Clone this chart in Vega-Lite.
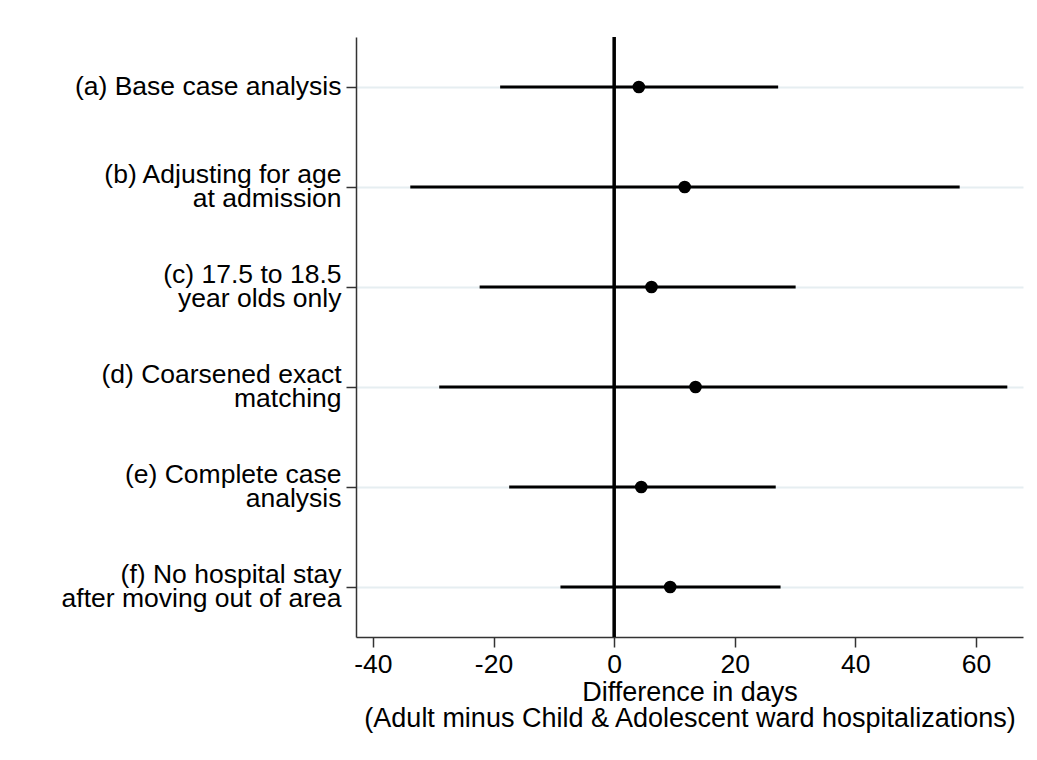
{
  "$schema": "https://vega.github.io/schema/vega-lite/v6.json",
  "autosize": {"type": "none"},
  "width": 667,
  "height": 600,
  "padding": {"left": 356, "top": 37, "right": 14, "bottom": 123},
  "background": "white",
  "config": {
    "view": {"stroke": null},
    "font": "Liberation Sans"
  },
  "data": {
    "values": [
      {"label": "(a) Base case analysis", "est": 4.1, "lo": -18.9, "hi": 27.2},
      {"label": "(b) Adjusting for age|at admission", "est": 11.7, "lo": -33.8, "hi": 57.3},
      {"label": "(c) 17.5 to 18.5|year olds only", "est": 6.2, "lo": -22.3, "hi": 30.1},
      {"label": "(d) Coarsened exact|matching", "est": 13.5, "lo": -29.0, "hi": 65.2},
      {"label": "(e) Complete case|analysis", "est": 4.5, "lo": -17.4, "hi": 26.8},
      {"label": "(f) No hospital stay|after moving out of area", "est": 9.3, "lo": -8.9, "hi": 27.6}
    ]
  },
  "encoding": {
    "y": {
      "field": "label",
      "type": "nominal",
      "sort": null,
      "scale": {"paddingInner": 0, "paddingOuter": 0},
      "axis": {
        "title": null,
        "labelExpr": "split(datum.label, '|')",
        "labelFontSize": 26.5,
        "labelLineHeight": 24,
        "labelColor": "black",
        "labelPadding": 5,
        "labelLimit": 400,
        "labelOffset": {"condition": {"test": "indexof(datum.label, '|') >= 0", "value": -12}, "value": 0},
        "tickSize": 10,
        "tickColor": "#333333",
        "tickWidth": 1.5,
        "domainColor": "#333333",
        "domainWidth": 1.5,
        "grid": true,
        "gridColor": "#e6eef1",
        "gridWidth": 2
      }
    }
  },
  "layer": [
    {
      "mark": {"type": "rule", "color": "black", "strokeWidth": 2.5},
      "encoding": {
        "x": {"datum": 0, "type": "quantitative"},
        "y": null
      }
    },
    {
      "mark": {"type": "rule", "color": "black", "strokeWidth": 3},
      "encoding": {
        "x": {
          "field": "lo",
          "type": "quantitative",
          "scale": {"domain": [-42.8, 67.8], "nice": false, "zero": false},
          "axis": {
            "values": [-40, -20, 0, 20, 40, 60],
            "labelExpr": "toString(datum.value)",
            "title": ["Difference in days", "(Adult minus Child & Adolescent ward hospitalizations)"],
            "titleFontSize": 27,
            "titleFontWeight": "normal",
            "titleLineHeight": 26,
            "titleColor": "black",
            "titlePadding": 2,
            "labelFontSize": 26.5,
            "labelColor": "black",
            "labelPadding": 4,
            "tickSize": 10,
            "tickColor": "#333333",
            "tickWidth": 1.5,
            "domainColor": "#333333",
            "domainWidth": 1.5,
            "grid": false
          }
        },
        "x2": {"field": "hi"}
      }
    },
    {
      "mark": {"type": "point", "filled": true, "color": "black", "opacity": 1, "size": 160},
      "encoding": {
        "x": {"field": "est", "type": "quantitative"}
      }
    }
  ]
}
